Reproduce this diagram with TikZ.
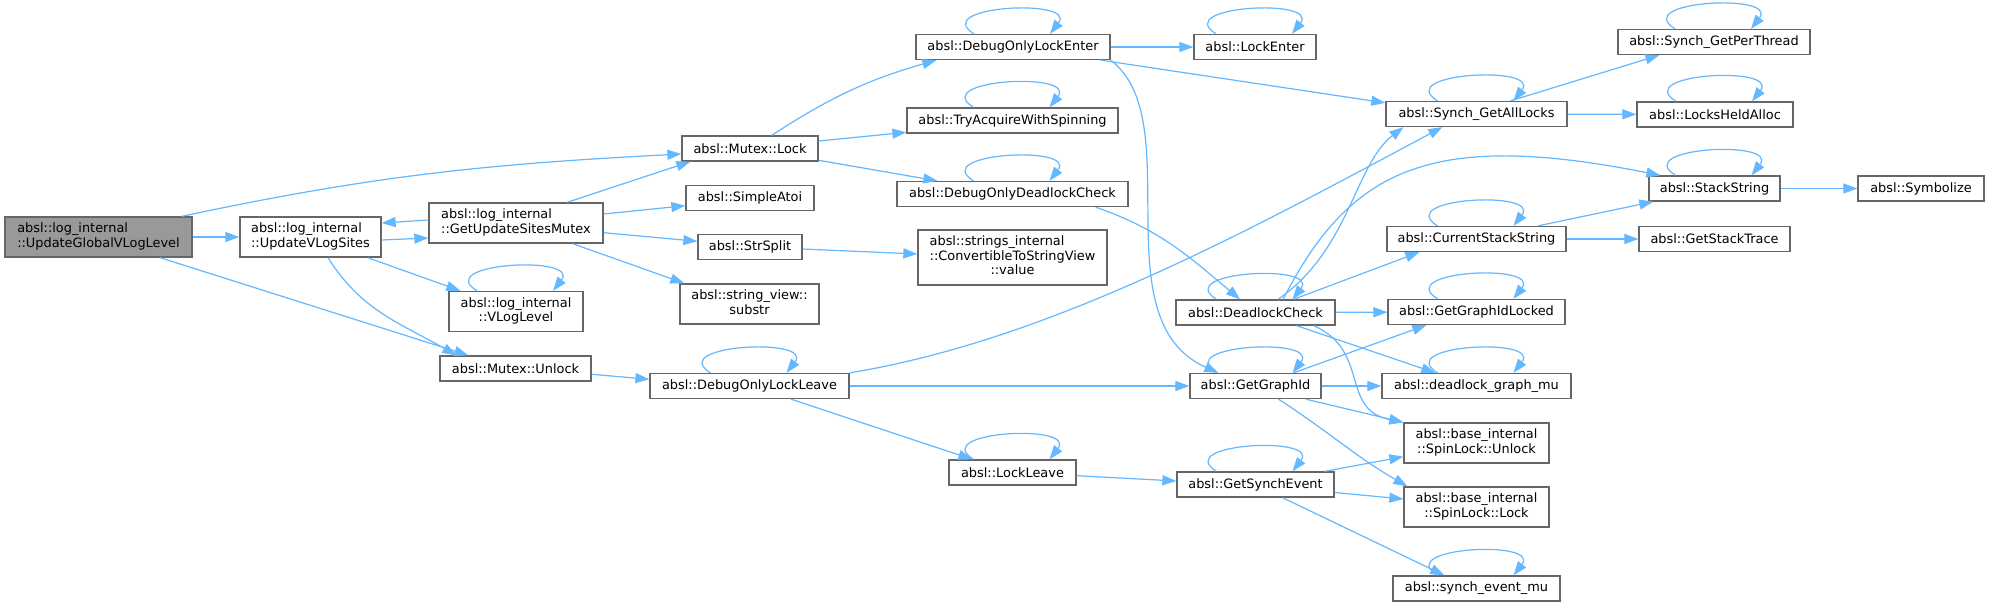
\documentclass[tikz,border=0pt]{standalone}
\usepackage{fontspec}
\setmainfont{DejaVu Sans}
\usetikzlibrary{arrows.meta}
\definecolor{edgecol}{HTML}{63B8FF}
\definecolor{nodeborder}{HTML}{666666}
\definecolor{rootfill}{HTML}{999999}
\newcommand\dxfont{\fontsize{12.9pt}{14.5pt}\selectfont}
\newcommand\dxtwo[2]{\begin{tabular}{@{}l@{}}#1\\\multicolumn{1}{@{}c@{}}{#2}\end{tabular}}
\newcommand\dxthree[3]{\begin{tabular}{@{}l@{}}#1\\#2\\\multicolumn{1}{@{}c@{}}{#3}\end{tabular}}
\tikzset{
  fn/.style={draw=nodeborder, line width=1.3pt, fill=white, inner sep=0pt, font=\dxfont, text=black},
  rootfn/.style={fn, fill=rootfill},
  edge/.style={draw=edgecol, line width=1.2pt, -{Triangle[length=14pt,width=10pt]}},
}
\newcommand\selfloop[1]{\draw[edge] ([xshift=-39pt]#1.north) .. controls +(-45,-28) and +(28,-36) .. ([xshift=37pt]#1.north);}
\begin{document}
\begin{tikzpicture}[x=1pt,y=-1pt]
\useasboundingbox (0,0) rectangle (1989,607);
\fill[white] (0,0) rectangle (1989,607);
% column 1-3
\node[rootfn, minimum width=187pt, minimum height=40pt] (ugvl) at (98.5,237) {\dxtwo{absl::log\_internal}{::UpdateGlobalVLogLevel}};
\node[fn, minimum width=141pt, minimum height=40pt] (uvls) at (310.5,237) {\dxtwo{absl::log\_internal}{::UpdateVLogSites}};
\node[fn, minimum width=174pt, minimum height=40pt] (gusm) at (516,223) {\dxtwo{absl::log\_internal}{::GetUpdateSitesMutex}};
\node[fn, minimum width=134pt, minimum height=40pt] (vll) at (516,311.5) {\dxtwo{absl::log\_internal}{::VLogLevel}};
\node[fn, minimum width=151pt, minimum height=25pt] (munlock) at (515.5,368.5) {absl::Mutex::Unlock};
% column 4
\node[fn, minimum width=136pt, minimum height=25pt] (mlock) at (750,148.5) {absl::Mutex::Lock};
\node[fn, minimum width=128pt, minimum height=25pt] (atoi) at (750,198) {absl::SimpleAtoi};
\node[fn, minimum width=104pt, minimum height=25pt] (strsplit) at (750,247) {absl::StrSplit};
\node[fn, minimum width=139pt, minimum height=40pt] (substr) at (749.5,304) {\dxtwo{absl::string\_view::}{substr}};
\node[fn, minimum width=199pt, minimum height=25pt] (doll) at (749.5,386) {absl::DebugOnlyLockLeave};
% column 5
\node[fn, minimum width=194pt, minimum height=25pt] (dole) at (1013,47) {absl::DebugOnlyLockEnter};
\node[fn, minimum width=211pt, minimum height=25pt] (taws) at (1012.5,120.5) {absl::TryAcquireWithSpinning};
\node[fn, minimum width=231pt, minimum height=25pt] (dodc) at (1012.5,194) {absl::DebugOnlyDeadlockCheck};
\node[fn, minimum width=189pt, minimum height=55pt] (ctsv) at (1012.5,257.5) {\dxthree{absl::strings\_internal}{::ConvertibleToStringView}{::value}};
\node[fn, minimum width=127pt, minimum height=25pt] (lockleave) at (1012.5,472.5) {absl::LockLeave};
% column 6
\node[fn, minimum width=122pt, minimum height=25pt] (lockenter) at (1255,47) {absl::LockEnter};
\node[fn, minimum width=159pt, minimum height=25pt] (dlc) at (1255.5,312.5) {absl::DeadlockCheck};
\node[fn, minimum width=131pt, minimum height=25pt] (ggi) at (1255.5,386) {absl::GetGraphId};
\node[fn, minimum width=157pt, minimum height=25pt] (gse) at (1255.5,484.5) {absl::GetSynchEvent};
% column 7
\node[fn, minimum width=181pt, minimum height=25pt] (sgal) at (1476.5,114) {absl::Synch\_GetAllLocks};
\node[fn, minimum width=179pt, minimum height=25pt] (css) at (1476.5,239) {absl::CurrentStackString};
\node[fn, minimum width=177pt, minimum height=25pt] (ggil) at (1476.5,312) {absl::GetGraphIdLocked};
\node[fn, minimum width=189pt, minimum height=25pt] (dgm) at (1476.5,386) {absl::deadlock\_graph\_mu};
\node[fn, minimum width=145pt, minimum height=40pt] (slu) at (1476.5,443) {\dxtwo{absl::base\_internal}{::SpinLock::Unlock}};
\node[fn, minimum width=145pt, minimum height=40pt] (sll) at (1476.5,507) {\dxtwo{absl::base\_internal}{::SpinLock::Lock}};
\node[fn, minimum width=167pt, minimum height=25pt] (sem) at (1476.5,588.5) {absl::synch\_event\_mu};
% column 8-9
\node[fn, minimum width=192pt, minimum height=25pt] (sgpt) at (1714,42) {absl::Synch\_GetPerThread};
\node[fn, minimum width=156pt, minimum height=25pt] (lha) at (1715,114.5) {absl::LocksHeldAlloc};
\node[fn, minimum width=131pt, minimum height=25pt] (stackstring) at (1714.5,188.5) {absl::StackString};
\node[fn, minimum width=151pt, minimum height=25pt] (gst) at (1714.5,239) {absl::GetStackTrace};
\node[fn, minimum width=126pt, minimum height=25pt] (symbolize) at (1921,188.5) {absl::Symbolize};

% edges
\draw[edge] ([xshift=-11pt]ugvl.north east) to[out=12,in=183] ([yshift=-5.5pt]mlock.west);
\draw[edge] (ugvl) -- (uvls);
\draw[edge] ([xshift=61.5pt]ugvl.south) -- ([xshift=29pt]munlock.north west);
\draw[edge] ([yshift=-3pt]uvls.east) -- ([yshift=-15pt]gusm.west);
\draw[edge] ([yshift=3pt]gusm.west) -- ([yshift=14pt]uvls.east);
\draw[edge] ([xshift=-14pt]uvls.south east) -- ([xshift=12pt]vll.north west);
\draw[edge] ([xshift=17.5pt]uvls.south) to[out=-58,in=150] ([xshift=17pt]munlock.north west);
\draw[edge] ([xshift=51pt]gusm.north) -- ([xshift=9pt]mlock.south west);
\draw[edge] ([yshift=9pt]gusm.east) -- ([yshift=-7.7pt]atoi.west);
\draw[edge] ([yshift=-9.7pt]gusm.east) -- ([yshift=5.7pt]strsplit.west);
\draw[edge] ([xshift=56.6pt]gusm.south) -- ([xshift=5pt]substr.north west);
\draw[edge] ([yshift=-2pt]strsplit.east) -- ([yshift=3.5pt]ctsv.west);
\draw[edge] ([xshift=21.7pt]mlock.north) to[out=33,in=196] ([xshift=21pt]dole.south west);
\draw[edge] ([yshift=7.5pt]mlock.east) -- ([yshift=-11.8pt]taws.west);
\draw[edge] ([yshift=-11.8pt]mlock.east) -- ([xshift=41pt]dodc.north west);
\draw[edge] (dole) -- (lockenter);
\draw[edge] ([xshift=-10pt]dole.south east) -- ([yshift=-2pt]sgal.north west);
\draw[edge] (dole.south east) .. controls +(79,60) and +(-119,-53) .. ([xshift=29pt]ggi.north west);
\draw[edge] ([xshift=-33pt]dodc.south east) to[out=-19,in=140] ([xshift=-15.5pt]dlc.north);
\draw[edge] ([yshift=-5.8pt]munlock.east) -- ([yshift=6.7pt]doll.west);
\draw[edge] (doll.north east) .. controls +(201,-33) and +(-193,103) .. ([xshift=57pt]sgal.south west);
\draw[edge] (doll) -- (ggi);
\draw[edge] ([xshift=41.5pt]doll.south) -- ([xshift=24pt]lockleave.north west);
\draw[edge] ([yshift=-3.2pt]lockleave.east) -- ([yshift=3.5pt]gse.west);
\draw[edge] ([xshift=-10pt]gse.north east) -- ([yshift=-13.7pt]slu.west);
\draw[edge] ([yshift=-8pt]gse.east) -- ([yshift=8pt]sll.west);
\draw[edge] ([xshift=27pt]gse.south) -- ([xshift=52pt]sem.north west);
\draw[edge] ([xshift=38pt]ggi.north) -- ([xshift=39pt]ggil.south west);
\draw[edge] (ggi) -- (dgm);
\draw[edge] ([xshift=-16pt]ggi.south east) -- (slu.north west);
\draw[edge] ([xshift=23pt]ggi.south) to[out=-33,in=150] ([xshift=4pt]sll.north west);
\draw[edge] ([xshift=22.5pt]dlc.north) .. controls +(72,-50) and +(-49,38) .. ([xshift=18pt]sgal.south west);
\draw[edge] ([xshift=27.5pt]dlc.north) .. controls +(67,-130) and +(-231,-46) .. ([xshift=12pt]stackstring.north west);
\draw[edge] ([xshift=38pt]dlc.north) -- ([xshift=33pt]css.south west);
\draw[edge] (dlc) -- (ggil);
\draw[edge] ([xshift=41pt]dlc.south) -- ([xshift=54pt]dgm.north west);
\draw[edge] ([xshift=-22pt]dlc.south east) .. controls +(57,25) and +(-64,-13) .. (slu.north west);
\draw[edge] ([xshift=34pt]sgal.north) -- ([xshift=42pt]sgpt.south west);
\draw[edge] (sgal) -- (lha);
\draw[edge] (stackstring) -- (symbolize);
\draw[edge] ([xshift=61.5pt]css.north) -- ([xshift=5pt]stackstring.south west);
\draw[edge] (css) -- (gst);
% self loops
\selfloop{dole}
\selfloop{lockenter}
\selfloop{taws}
\selfloop{dodc}
\selfloop{vll}
\selfloop{doll}
\selfloop{lockleave}
\selfloop{gse}
\selfloop{ggi}
\selfloop{dlc}
\selfloop{sgal}
\selfloop{sgpt}
\selfloop{lha}
\selfloop{stackstring}
\selfloop{css}
\selfloop{ggil}
\selfloop{dgm}
\selfloop{sem}
\end{tikzpicture}
\end{document}
